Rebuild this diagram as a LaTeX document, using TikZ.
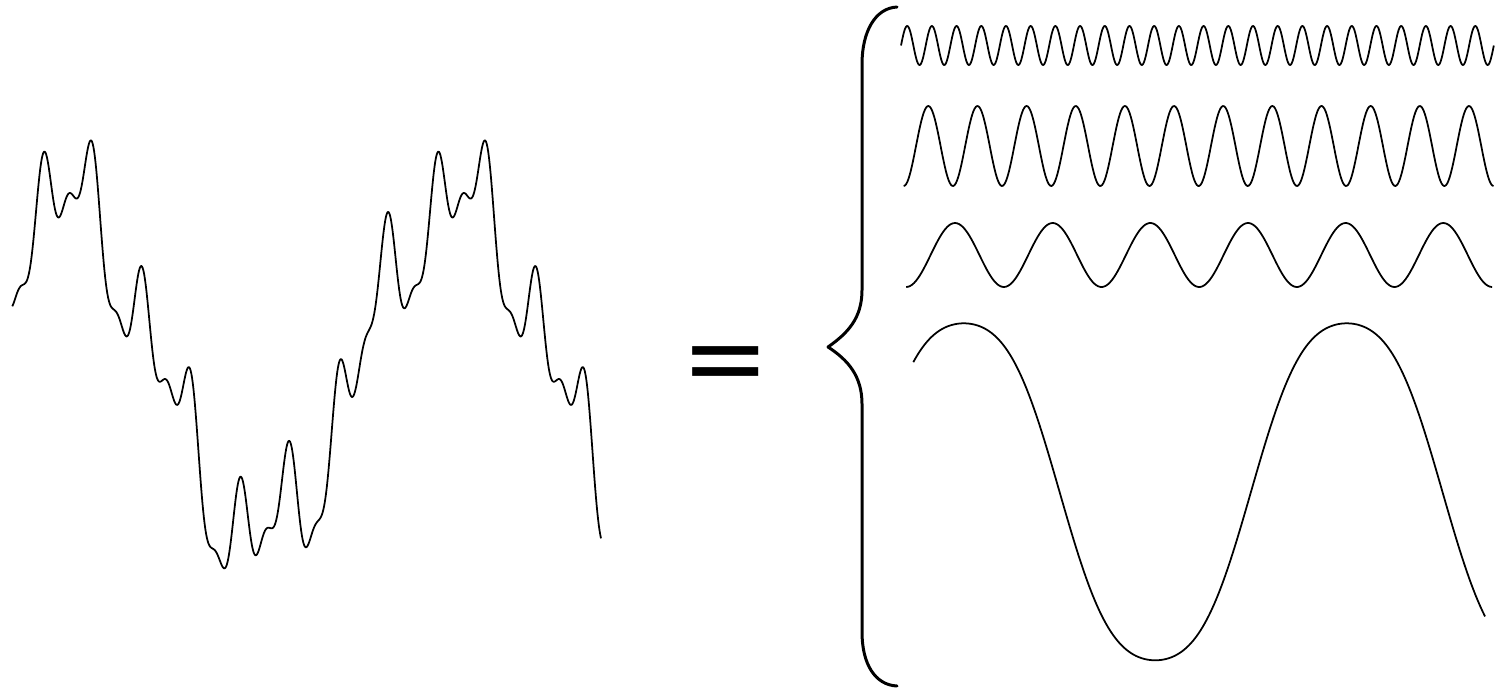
\documentclass[tikz,border=0pt]{standalone}
\usepackage{fontspec}
\newfontfamily\eqfont{DejaVu Sans}
\begin{document}
\begin{tikzpicture}[x=0.02cm, y=-0.02cm,
  wave/.style={line width=1pt, black, line join=round},
  bracestyle/.style={line width=1.7pt, black, line cap=round, line join=round},
  declare function={
    cu(\x) = 0.913706*(\x-67);
    comp(\x) = 367.4 - (169.1*cos(cu(\x)+4.96) + 31*cos(4*cu(\x)-24.9)
               - 44.3*cos(8*cu(\x)) + 20*cos(16*cu(\x)-17.2));
    bw(\x) = 0.94019*(\x-963.8);
  }]
\useasboundingbox (0,0) rectangle (1496,690);

% composite signal
\draw[wave] plot[domain=12.3:601, samples=800] (\x, {comp(\x)});

% equals sign
\node[inner sep=0pt, font=\eqfont\fontsize{60pt}{60pt}\selectfont] (eq) at (725.5,371) {=};

% brace
\draw[bracestyle] (897,7) .. controls (875,8) and (862,32) .. (862,64)
  -- (862,290) .. controls (862,318) and (848,333) .. (828,347)
  .. controls (848,360) and (862,376) .. (862,404)
  -- (862,632) .. controls (862,664) and (875,685) .. (897,686);

% component waves
\draw[wave] plot[domain=901:1493.8, samples=900] (\x, {45.5 - 19.5*sin(14.5749*(\x-901))});
\draw[wave] plot[domain=903.7:1493.5, samples=500] (\x, {146 - 40*cos(7.3245*(\x-928.3))});
\draw[wave] plot[domain=906.2:1492.1, samples=300] (\x, {255 - 32*cos(3.6862*(\x-955))});
\draw[wave] plot[domain=913.3:1485, samples=250] (\x, {491.8 - 168.5*(cos(bw(\x)) - 0.06*cos(3*bw(\x)))/0.94});
\end{tikzpicture}
\end{document}
